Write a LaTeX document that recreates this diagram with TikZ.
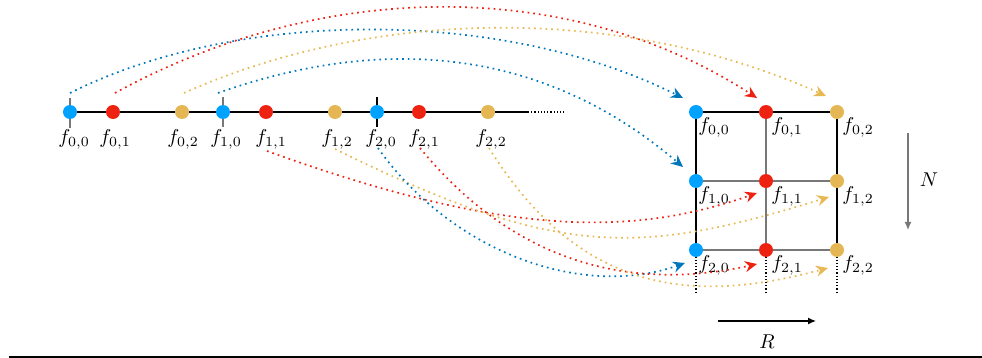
\documentclass[tikz,border=0pt]{standalone}
\usetikzlibrary{arrows.meta}
\definecolor{cblue}{RGB}{0,162,255}
\definecolor{cred}{RGB}{238,34,17}
\definecolor{cyel}{RGB}{228,182,84}
\definecolor{ablue}{RGB}{0,119,187}
\definecolor{ared}{RGB}{238,34,17}
\definecolor{ayel}{RGB}{232,184,82}
\definecolor{lgray}{RGB}{120,120,120}
\tikzset{
  dotb/.style={circle,fill=cblue,inner sep=0pt,minimum size=7pt},
  dotr/.style={circle,fill=cred,inner sep=0pt,minimum size=7pt},
  doty/.style={circle,fill=cyel,inner sep=0pt,minimum size=7pt},
  lab/.style={inner sep=0pt,font=\normalsize},
  flow/.style={dotted,line width=0.85pt,-{Stealth[length=6pt,width=5.5pt]}},
}
\begin{document}
\begin{tikzpicture}[x=0.5pt,y=-0.5pt]
\useasboundingbox (0,0) rectangle (982,358);
% bottom rule
\draw[line width=0.7pt] (9,357) -- (982,357);
% left line
\draw[line width=0.6pt] (70,112) -- (528,112);
\draw[densely dotted,line width=0.6pt] (528,112) -- (566,112);
\draw[lgray,line width=0.6pt] (70,98) -- (70,128);
\draw[lgray,line width=0.6pt] (223,97) -- (223,127);
\draw[line width=0.6pt] (377,97) -- (377,127);
% left nodes
\node[dotb] (a00) at (70,112) {};
\node[dotr] (a01) at (113,112) {};
\node[doty] (a02) at (182,112) {};
\node[dotb] (a10) at (223,112) {};
\node[dotr] (a11) at (266,112) {};
\node[doty] (a12) at (335,112) {};
\node[dotb] (a20) at (377,112) {};
\node[dotr] (a21) at (419,112) {};
\node[doty] (a22) at (488,112) {};
\foreach \n/\x/\t in {la00/74/{0,0},la01/115/{0,1},la02/183/{0,2},la10/226/{1,0},la11/271/{1,1},la12/337/{1,2},la20/381/{2,0},la21/424/{2,1},la22/491/{2,2}}
  \node[lab] (\n) at (\x,139) {$f_{\t}$};
% grid lines
\draw[lgray,line width=0.6pt] (696,181) -- (837,181);
\draw[lgray,line width=0.6pt] (696,250) -- (837,250);
\draw[lgray,line width=0.6pt] (766,112) -- (766,250);
\draw[line width=0.6pt] (696,112) -- (837,112);
\draw[line width=0.6pt] (696,112) -- (696,250);
\draw[line width=0.6pt] (837,112) -- (837,250);
\foreach \x in {696,766,837}
  \draw[densely dotted,line width=0.6pt] (\x,250) -- (\x,292);
% grid nodes
\node[dotb] (g00) at (696,112) {};
\node[dotr] (g01) at (766,112) {};
\node[doty] (g02) at (837,112) {};
\node[dotb] (g10) at (696,181) {};
\node[dotr] (g11) at (766,181) {};
\node[doty] (g12) at (837,181) {};
\node[dotb] (g20) at (696,250) {};
\node[dotr] (g21) at (766,250) {};
\node[doty] (g22) at (837,250) {};
\foreach \r/\y in {0/112,1/181,2/250}{
  \node[lab] (lg\r0) at (714,\y+15) {$f_{\r,0}$};
  \node[lab] (lg\r1) at (787,\y+15) {$f_{\r,1}$};
  \node[lab] (lg\r2) at (858,\y+15) {$f_{\r,2}$};
}
% axes
\coordinate (n1) at (908,133);
\coordinate (n2) at (908,230);
\draw[lgray,line width=0.6pt,-{Latex[length=4pt,width=3.5pt]}] (n1) -- (n2);
\node[lab] (lN) at (929,180) {$N$};
\coordinate (r1) at (718,321);
\coordinate (r2) at (816,321);
\draw[line width=0.6pt,-{Latex[length=4pt,width=3.5pt]}] (r1) -- (r2);
\node[lab] (lR) at (767,342) {$R$};
% upper flows
\coordinate (e00) at (683,98);
\coordinate (e01) at (757,98);
\coordinate (e02) at (826,96);
\coordinate (e10) at (683,167);
\draw[flow,ablue] (70,93) .. controls (240,8) and (503,8) .. (e00);
\draw[flow,ared] (115,93) .. controls (325,-22) and (572,-22) .. (e01);
\draw[flow,ayel] (184,93) .. controls (379,6) and (626,6) .. (e02);
\draw[flow,ablue] (218,93) .. controls (368,40) and (533,39) .. (e10);
% lower flows
\coordinate (e11) at (757,193);
\coordinate (e12) at (829,197);
\coordinate (e20) at (685,263);
\coordinate (e21) at (757,264);
\coordinate (e22) at (828,268);
\draw[flow,ared] (267,151) .. controls (500,235) and (629,238) .. (e11);
\draw[flow,ayel] (335,149) .. controls (560,260) and (640,255) .. (e12);
\draw[flow,ablue] (378,148) .. controls (450,250) and (580,300) .. (e20);
\draw[flow,ared] (420,148) .. controls (520,270) and (640,290) .. (e21);
\draw[flow,ayel] (489,148) .. controls (586,304) and (707,300) .. (e22);
\end{tikzpicture}
\end{document}
